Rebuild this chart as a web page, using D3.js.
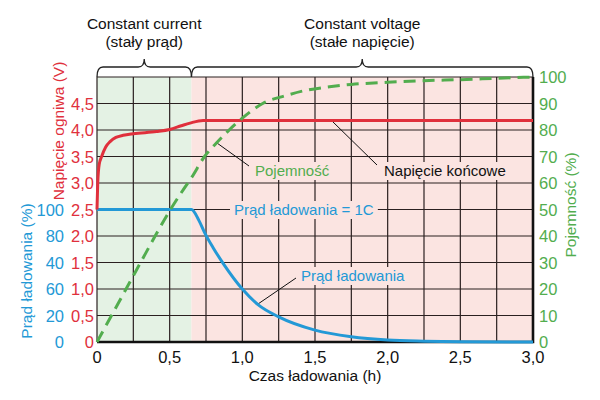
<!DOCTYPE html>
<html lang="pl">
<head>
<meta charset="UTF-8">
<title>Ładowanie ogniwa Li-ion</title>
<script src="https://d3js.org/d3.v7.min.js"></script>
<style>
    body { margin: 0; background: #fff; }
    svg { font-family: "Liberation Sans", Arial, sans-serif; }
</style>
</head>
<body>
<svg id="chart" width="600" height="400"></svg>
<script>
    // ---- data ----
    const ccEnd = 0.65; // end of constant-current phase (h)

    const voltTime = [0, 0.005, 0.015, 0.032, 0.06, 0.09, 0.13, 0.18, 0.25, 0.41, 0.5, 0.58, 0.64, 0.73, 1.0, 2.0, 3.0];
    const voltValue = [2.5, 3.0, 3.35, 3.5, 3.68, 3.78, 3.86, 3.9, 3.93, 3.97, 4.01, 4.08, 4.13, 4.18, 4.18, 4.18, 4.18];

    const capTime = [0, 0.1, 0.2, 0.3, 0.4, 0.5, 0.6, 0.65, 0.74, 0.82, 0.9, 1.0, 1.14, 1.3, 1.44, 1.6, 1.75, 2.0, 2.25, 2.5, 2.75, 3.0];
    const capValue = [0, 10, 20, 30, 40, 49.5, 58, 62, 70, 75, 79.5, 84.5, 90, 93, 95, 96.3, 97.2, 98, 98.6, 99, 99.5, 100];

    const curTime = [0, 0.65, 0.7, 0.743, 0.8, 0.87, 1.0, 1.11, 1.25, 1.5, 1.75, 2.0, 2.25, 2.5, 3.0];
    const curValue = [100, 100, 92, 82, 71, 59, 40, 28, 19, 9, 4, 1.5, 0.6, 0.2, 0];

    const xTicks = [0, 0.5, 1.0, 1.5, 2.0, 2.5, 3.0];
    const voltTicks = [0, 0.5, 1.0, 1.5, 2.0, 2.5, 3.0, 3.5, 4.0, 4.5];
    const capTicks = [0, 10, 20, 30, 40, 50, 60, 70, 80, 90, 100];
    const curTicks = [0, 20, 40, 60, 80, 100];
    const curTickLabels = ["0", "20", "60", "40", "80", "100"];

    const red = "#e0303c", green = "#52ad4e", blue = "#2399d6", pink = "#fbe4e1";
    const fmt = d => d3.format(".1f")(d).replace(".", ",");

    const svg = d3.select("#chart");
    const L = 97, R = 533, T = 77, B = 342;

    const x = d3.scaleLinear().domain([0, 3]).range([L, R]);
    const yV = d3.scaleLinear().domain([0, 5]).range([B, T]);
    const yC = d3.scaleLinear().domain([0, 100]).range([B, T]);
    const yI = d3.scaleLinear().domain([0, 200]).range([B, T]);

    // background phases
    svg.append("rect").attr("x", x(0)).attr("y", T)
        .attr("width", x(ccEnd) - x(0)).attr("height", B - T).attr("fill", "#e4f2e4");
    svg.append("rect").attr("x", x(ccEnd)).attr("y", T)
        .attr("width", x(3) - x(ccEnd)).attr("height", B - T).attr("fill", pink);

    // grid
    const grid = svg.append("g").attr("stroke", "#2a2020").attr("stroke-width", 1.2);
    grid.selectAll("line.v").data(d3.range(0, 3.01, 0.25)).join("line")
        .attr("x1", d => x(d)).attr("x2", d => x(d)).attr("y1", T).attr("y2", B);
    grid.selectAll("line.h").data(d3.range(0, 5.01, 0.5)).join("line")
        .attr("x1", L).attr("x2", R).attr("y1", d => yV(d)).attr("y2", d => yV(d));

    // thicker bottom & right frame
    svg.append("path").attr("d", `M${L},${B}H${R}V${T}`)
        .attr("fill", "none").attr("stroke", "#111").attr("stroke-width", 2.6);

    // annotation labels sit on pink boxes that hide the grid
    const ann = svg.append("g").attr("font-size", 15);
    function label(px, py, txt, col) {
        const box = ann.append("rect").attr("fill", pink);
        const t = ann.append("text").attr("x", px).attr("y", py).attr("fill", col).text(txt);
        const b = t.node().getBBox();
        box.attr("x", b.x - 4).attr("y", b.y).attr("width", b.width + 8).attr("height", b.height + 1);
    }
    ann.append("line").attr("x1", 217).attr("y1", 143).attr("x2", 249).attr("y2", 166)
        .attr("stroke", "#111").attr("stroke-width", 1);
    label(255, 176, "Pojemność", green);
    ann.append("line").attr("x1", 332).attr("y1", 121).attr("x2", 377).attr("y2", 165)
        .attr("stroke", "#111").attr("stroke-width", 1);
    label(384, 176, "Napięcie końcowe", "#111");
    label(234, 215, "Prąd ładowania = 1C", blue);
    ann.append("line").attr("x1", 258).attr("y1", 304).attr("x2", 296).attr("y2", 278)
        .attr("stroke", "#111").attr("stroke-width", 1);
    label(301, 281, "Prąd ładowania", blue);

    // curves
    const line = d3.line().curve(d3.curveMonotoneX);
    const pts = (ts, vs, ys) => ts.map((t, i) => [x(t), ys(vs[i])]);

    svg.append("path").attr("d", line(pts(curTime, curValue, yI)))
        .attr("fill", "none").attr("stroke", blue).attr("stroke-width", 3);
    svg.append("path").attr("d", line(pts(voltTime, voltValue, yV)))
        .attr("fill", "none").attr("stroke", red).attr("stroke-width", 3);
    svg.append("path").attr("d", line(pts(capTime, capValue, yC)))
        .attr("fill", "none").attr("stroke", green).attr("stroke-width", 3)
        .attr("stroke-dasharray", "12,7");

    // axes labels
    const tick = svg.append("g").attr("font-size", 16.5);
    tick.selectAll("text.x").data(xTicks).join("text")
        .attr("x", d => x(d)).attr("y", 363).attr("text-anchor", "middle")
        .attr("fill", "#111").text(d => d === 0 ? "0" : fmt(d));
    tick.selectAll("text.v").data(voltTicks).join("text")
        .attr("x", 94).attr("y", d => yV(d) + 6).attr("text-anchor", "end")
        .attr("fill", red).text(d => d === 0 ? "0" : fmt(d));
    tick.selectAll("text.i").data(curTicks).join("text")
        .attr("x", 64).attr("y", d => yI(d) + 6).attr("text-anchor", "end")
        .attr("fill", blue).text((d, i) => curTickLabels[i]);
    tick.selectAll("text.c").data(capTicks).join("text")
        .attr("x", 539).attr("y", d => yC(d) + 6).attr("text-anchor", "start")
        .attr("fill", green).text(d => d);

    // axis titles
    svg.append("text").attr("x", 315).attr("y", 381).attr("text-anchor", "middle")
        .attr("font-size", 15.5).attr("fill", "#111").text("Czas ładowania (h)");
    svg.append("text").attr("transform", "translate(64,131) rotate(-90)")
        .attr("text-anchor", "middle").attr("font-size", 15.5).attr("fill", red)
        .text("Napięcie ogniwa (V)");
    svg.append("text").attr("transform", "translate(32,271) rotate(-90)")
        .attr("text-anchor", "middle").attr("font-size", 15.5).attr("fill", blue)
        .text("Prąd ładowania (%)");
    svg.append("text").attr("transform", "translate(576,205) rotate(-90)")
        .attr("text-anchor", "middle").attr("font-size", 15.5).attr("fill", green)
        .text("Pojemność (%)");

    // braces on top
    function brace(x0, x1, yEnd, yLine, yTip) {
        const xm = (x0 + x1) / 2, r = 6;
        return `M${x0},${yEnd} Q${x0},${yLine} ${x0 + r},${yLine} H${xm - r}` +
            ` Q${xm},${yLine} ${xm},${yTip} Q${xm},${yLine} ${xm + r},${yLine} H${x1 - r}` +
            ` Q${x1},${yLine} ${x1},${yEnd}`;
    }
    svg.append("path").attr("d", brace(x(0), x(ccEnd), T, 67, 59))
        .attr("fill", "none").attr("stroke", "#222").attr("stroke-width", 1.3);
    svg.append("path").attr("d", brace(x(ccEnd), x(3), T, 67, 59))
        .attr("fill", "none").attr("stroke", "#222").attr("stroke-width", 1.3);

    const head = svg.append("g").attr("font-size", 15.5).attr("fill", "#111").attr("text-anchor", "middle");
    head.append("text").attr("x", (x(0) + x(ccEnd)) / 2).attr("y", 29).text("Constant current");
    head.append("text").attr("x", (x(0) + x(ccEnd)) / 2).attr("y", 47).text("(stały prąd)");
    head.append("text").attr("x", (x(ccEnd) + x(3)) / 2).attr("y", 29).text("Constant voltage");
    head.append("text").attr("x", (x(ccEnd) + x(3)) / 2).attr("y", 47).text("(stałe napięcie)");
</script>
</body>
</html>
